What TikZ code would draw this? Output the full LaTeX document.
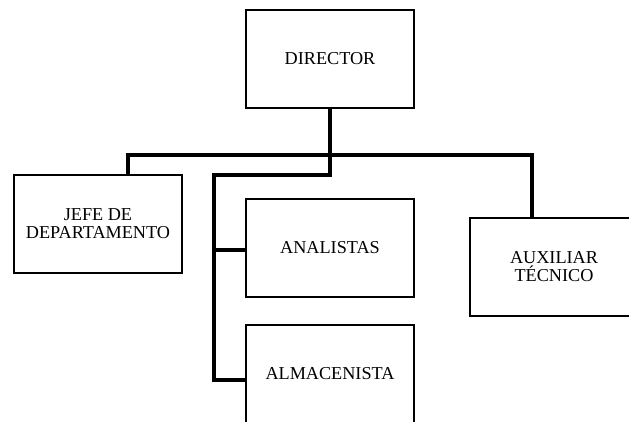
\documentclass[tikz,border=0pt]{standalone}
\usepackage{fontspec}
\setmainfont{Liberation Serif}
\usetikzlibrary{positioning}
\tikzset{
  cargo/.style={draw, line width=2pt, minimum width=168pt, minimum height=98pt,
    inner sep=0pt, align=center, font=\fontsize{18.2}{18}\selectfont},
  linea/.style={line width=4.7pt}
}
\begin{document}
\begin{tikzpicture}[x=1pt,y=-1pt]
\useasboundingbox (0,0) rectangle (629,421);
\node[cargo] (dir) at (330,59) {DIRECTOR};
\node[cargo] (jefe) at (98,224) {JEFE DE\\DEPARTAMENTO};
\node[cargo] (ana) at (330,248) {ANALISTAS};
\node[cargo] (alm) at (330,374) {ALMACENISTA};
\node[cargo] (aux) at (554,266.5) {AUXILIAR\\TÉCNICO};

\coordinate (bus) at (330,155);
\coordinate (codo) at (214,175);

\draw[linea] ([xshift=30pt]jefe.north) |- (bus) -| ([xshift=-22pt]aux.north);
\draw[linea] (dir.south) |- (codo) -- ([yshift=-6pt]codo |- alm.west) -- ([yshift=-6pt]alm.west);
\draw[linea] ([yshift=-2pt]codo |- ana.west) -- ([yshift=-2pt]ana.west);
\end{tikzpicture}
\end{document}
